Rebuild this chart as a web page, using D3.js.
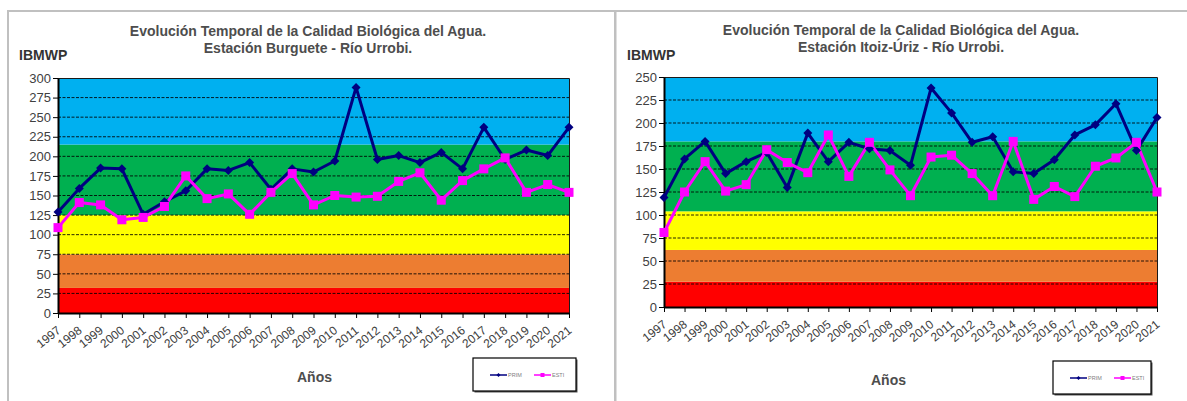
<!DOCTYPE html>
<html>
<head>
<meta charset="utf-8">
<script src="https://cdn.jsdelivr.net/npm/d3@7"></script>
<style>
  body { margin: 0; background: #fff; }
  svg { display: block; font-family: "Liberation Sans", Arial, sans-serif; }
</style>
</head>
<body>
<svg id="chart" width="1187" height="401"></svg>
<script>
// ---- data -------------------------------------------------------------
const years = ["1997","1998","1999","2000","2001","2002","2003","2004","2005","2006","2007","2008","2009",
               "2010","2011","2012","2013","2014","2015","2016","2017","2018","2019","2020","2021"];

// Estación Burguete - Río Urrobi
const burguetePrim = [129,159,185,184,126,142,156,184,182,192,158,184,180,194,288,196,201,192,205,184,237,196,208,201,237];
const burgueteEsti = [109,141,138,119,122,136,175,146,152,126,154,178,138,150,148,149,168,179,144,169,184,198,154,164,154];
const burgueteTicks = [0,25,50,75,100,125,150,175,200,225,250,275,300];
const burgueteLimits = [0,32,75,125,215,300];   // quality class boundaries

// Estación Itoiz-Úriz - Río Urrobi
const itoizPrim = [119,161,180,145,158,168,130,189,158,179,172,170,154,238,211,179,185,147,145,160,187,198,221,170,206];
const itoizEsti = [81,125,158,126,133,171,157,146,187,142,179,149,121,163,165,145,121,180,117,131,120,153,162,179,125];
const itoizTicks = [0,25,50,75,100,125,150,175,200,225,250];
const itoizLimits = [0,27.5,62,104,180,250];

const seriesNames = ["PRIM","ESTI"];
const titleLine1 = "Evolución Temporal de la Calidad Biológica del Agua.";

// class colours from bad (bottom) to very good (top)
const bandColors = ["#FF0000","#ED7D31","#FFFF00","#00B050","#00B0F0"];
const primColor = "#000080";
const estiColor = "#FF00FF";

const svg = d3.select("#chart");

// frame lines of the two panels
svg.append("rect").attr("x", 7).attr("y", 10).attr("width", 1180).attr("height", 2).attr("fill", "#c0c0c0");
svg.append("rect").attr("x", 7).attr("y", 10).attr("width", 2).attr("height", 391).attr("fill", "#c0c0c0");
svg.append("rect").attr("x", 614).attr("y", 10).attr("width", 2.5).attr("height", 391).attr("fill", "#c0c0c0");

function diamond(cx, cy, r) {
  return `M${cx},${cy - r}L${cx + r},${cy}L${cx},${cy + r}L${cx - r},${cy}Z`;
}

function drawPanel(cfg) {
  const g = svg.append("g");
  const x = d3.scalePoint().domain(years).range([cfg.left, cfg.right]);
  const y = d3.scaleLinear().domain([0, cfg.ticks[cfg.ticks.length - 1]]).range([cfg.bottom, cfg.top]);

  // quality bands
  g.append("g").selectAll("rect").data(bandColors).join("rect")
    .attr("x", cfg.left)
    .attr("width", cfg.right - cfg.left)
    .attr("y", (d, i) => y(cfg.limits[i + 1]))
    .attr("height", (d, i) => y(cfg.limits[i]) - y(cfg.limits[i + 1]))
    .attr("fill", d => d);

  // dashed gridlines
  g.append("g").selectAll("line").data(cfg.ticks.slice(1, -1)).join("line")
    .attr("x1", cfg.left).attr("x2", cfg.right)
    .attr("y1", d => y(d)).attr("y2", d => y(d))
    .attr("stroke", "#000").attr("stroke-width", 1)
    .attr("stroke-dasharray", "3,1.5").attr("stroke-opacity", 0.85);

  // plot border (top / right)
  g.append("path")
    .attr("d", `M${cfg.left},${cfg.top + 0.5}H${cfg.right + 0.5}V${cfg.bottom}`)
    .attr("fill", "none").attr("stroke", "#1a1a1a").attr("stroke-width", 1);

  // y axis
  const ya = g.append("g").attr("transform", `translate(${cfg.left},0)`)
    .call(d3.axisLeft(y).tickValues(cfg.ticks).tickSize(5).tickSizeOuter(0).tickPadding(2));
  ya.select(".domain").attr("stroke", "#000").attr("stroke-width", 2);
  ya.selectAll(".tick line").attr("stroke", "#000");
  ya.selectAll(".tick text").attr("fill", "#404040").attr("font-size", cfg.tickFont)
    .attr("font-family", "Liberation Sans, Arial, sans-serif");

  // x axis
  const xa = g.append("g").attr("transform", `translate(0,${cfg.bottom})`)
    .call(d3.axisBottom(x).tickSize(5).tickSizeOuter(0));
  xa.select(".domain").attr("stroke", "#000").attr("stroke-width", 2);
  xa.selectAll(".tick line").attr("stroke", "#000");
  xa.selectAll(".tick text")
    .attr("fill", "#404040").attr("font-size", cfg.xFont)
    .attr("font-family", "Liberation Sans, Arial, sans-serif")
    .attr("text-anchor", "end")
    .attr("dy", null)
    .attr("y", 0)
    .attr("transform", "translate(3,19) rotate(-38)");

  // series
  const line = d3.line().x((d, i) => x(years[i])).y(d => y(d));
  g.append("path").datum(cfg.prim).attr("d", line)
    .attr("fill", "none").attr("stroke", primColor).attr("stroke-width", 3).attr("stroke-linejoin", "round");
  g.append("path").datum(cfg.esti).attr("d", line)
    .attr("fill", "none").attr("stroke", estiColor).attr("stroke-width", 3).attr("stroke-linejoin", "round");

  g.append("g").selectAll("path").data(cfg.prim).join("path")
    .attr("d", (d, i) => diamond(x(years[i]), y(d), 4.5))
    .attr("fill", primColor);
  g.append("g").selectAll("rect").data(cfg.esti).join("rect")
    .attr("x", (d, i) => x(years[i]) - 4.5).attr("y", d => y(d) - 4.5)
    .attr("width", 9).attr("height", 9)
    .attr("fill", estiColor);

  // titles
  const t = g.append("text").attr("text-anchor", "middle").attr("font-weight", "bold")
    .attr("font-size", cfg.titleFont).attr("fill", "#4d4d4d");
  t.append("tspan").attr("x", cfg.titleX).attr("y", cfg.titleY).text(titleLine1);
  t.append("tspan").attr("x", cfg.titleX).attr("y", cfg.titleY + 17).text(cfg.subtitle);

  g.append("text").attr("x", cfg.yLabelX).attr("y", 60).attr("font-weight", "bold")
    .attr("font-size", 14).attr("fill", "#333").text("IBMWP");

  g.append("text").attr("x", cfg.xLabelX).attr("y", cfg.xLabelY).attr("font-weight", "bold")
    .attr("font-size", 14).attr("fill", "#4d4d4d").text("Años");

  // legend
  const lg = g.append("g").attr("transform", `translate(${cfg.legend[0]},${cfg.legend[1]})`);
  lg.append("rect").attr("x", 1.5).attr("y", 1.5).attr("width", cfg.legend[2]).attr("height", cfg.legend[3])
    .attr("fill", "#555");
  lg.append("rect").attr("width", cfg.legend[2]).attr("height", cfg.legend[3])
    .attr("fill", "#fff").attr("stroke", "#000").attr("stroke-width", 1.2);
  const my = cfg.legend[3] / 2 + 0.5;
  const items = [
    { name: seriesNames[0], color: primColor, x0: 17, marker: "d" },
    { name: seriesNames[1], color: estiColor, x0: 61, marker: "s" }
  ];
  items.forEach(it => {
    lg.append("line").attr("x1", it.x0).attr("x2", it.x0 + 17).attr("y1", my).attr("y2", my)
      .attr("stroke", it.color).attr("stroke-width", 1.5);
    if (it.marker === "d") {
      lg.append("path").attr("d", diamond(it.x0 + 8.5, my, 2)).attr("fill", it.color);
    } else {
      lg.append("rect").attr("x", it.x0 + 6.5).attr("y", my - 2).attr("width", 4).attr("height", 4).attr("fill", it.color);
    }
    lg.append("text").attr("x", it.x0 + 18).attr("y", my + 2).attr("font-size", 5.5)
      .attr("fill", "#808080").text(it.name);
  });
}

drawPanel({
  left: 58, right: 569, top: 78, bottom: 313,
  ticks: burgueteTicks, limits: burgueteLimits,
  prim: burguetePrim, esti: burgueteEsti,
  subtitle: "Estación Burguete - Río Urrobi.",
  titleX: 308, titleY: 36, titleFont: 14, tickFont: 13, xFont: 12,
  yLabelX: 19, xLabelX: 297, xLabelY: 382,
  legend: [473, 358, 103, 33]
});

drawPanel({
  left: 664, right: 1157, top: 77, bottom: 307,
  ticks: itoizTicks, limits: itoizLimits,
  prim: itoizPrim, esti: itoizEsti,
  subtitle: "Estación Itoiz-Úriz - Río Urrobi.",
  titleX: 901, titleY: 35, titleFont: 14, tickFont: 13, xFont: 12,
  yLabelX: 627, xLabelX: 871, xLabelY: 385,
  legend: [1053, 361, 98, 33]
});
</script>
</body>
</html>
